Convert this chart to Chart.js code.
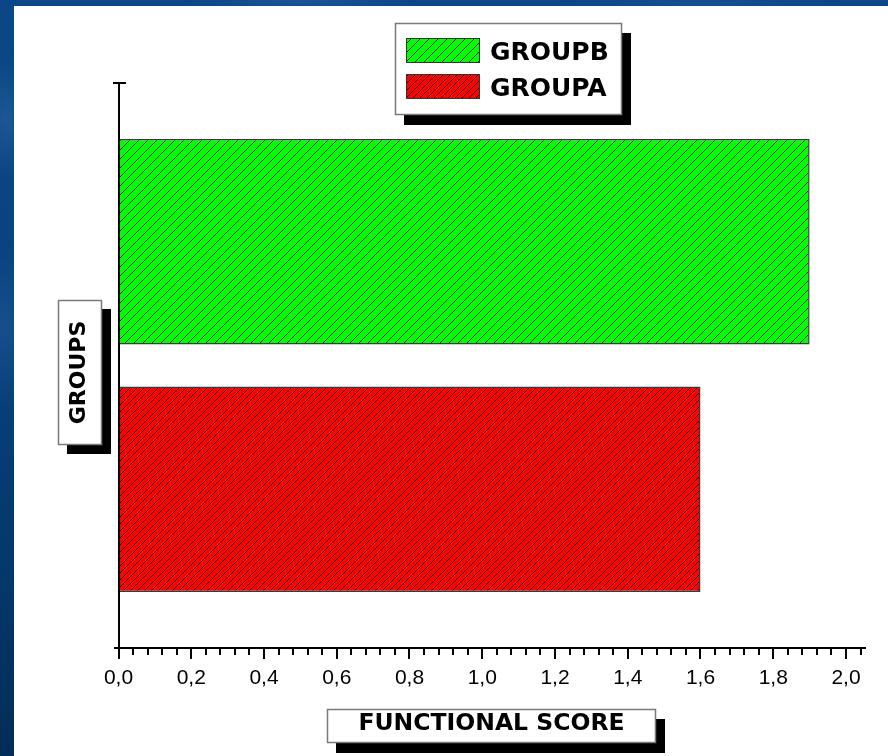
<!DOCTYPE html>
<html>
<head>
<meta charset="utf-8">
<title>Functional score by group</title>
<script src="https://cdn.jsdelivr.net/npm/chart.js@4.4.1/dist/chart.umd.min.js"></script>
<style>
  html, body { margin: 0; padding: 0; width: 888px; height: 756px; overflow: hidden; }
  body {
    background:
      radial-gradient(ellipse 30px 60px at 6px 120px, rgba(70,130,190,0.30), rgba(70,130,190,0) 100%),
      radial-gradient(ellipse 40px 80px at 4px 330px, rgba(60,120,185,0.25), rgba(60,120,185,0) 100%),
      radial-gradient(ellipse 120px 10px at 300px 2px, rgba(70,130,190,0.25), rgba(70,130,190,0) 100%),
      radial-gradient(ellipse 140px 10px at 700px 3px, rgba(60,120,185,0.20), rgba(60,120,185,0) 100%),
      linear-gradient(180deg, #0b4787 0%, #09427f 40%, #05386b 75%, #032d57 100%);
  }
  canvas { display: block; }
</style>
</head>
<body>
<canvas id="chart" width="888" height="756"></canvas>
<script>
// ---- data ----
const categories = ['GROUPS'];
const seriesNames = ['GROUPB', 'GROUPA'];
const groupBScores = [1.9];
const groupAScores = [1.6];
const seriesColors = ['#00ff00', '#ff0000'];
const xTickValues = [0.0, 0.2, 0.4, 0.6, 0.8, 1.0, 1.2, 1.4, 1.6, 1.8, 2.0];
const xTickLabels = ['0,0', '0,2', '0,4', '0,6', '0,8', '1,0', '1,2', '1,4', '1,6', '1,8', '2,0'];
const xAxisTitle = 'FUNCTIONAL SCORE';
const yAxisTitle = 'GROUPS';

const canvas = document.getElementById('chart');
const ctx = canvas.getContext('2d');

// diagonal "/" hatching over a solid fill
function hatch(color, gap) {
  const t = document.createElement('canvas');
  t.width = gap; t.height = gap;
  const g = t.getContext('2d');
  g.fillStyle = color;
  g.fillRect(0, 0, gap, gap);
  g.strokeStyle = 'rgba(0,0,0,0.85)';
  g.lineWidth = 1;
  g.beginPath();
  g.moveTo(0, gap); g.lineTo(gap, 0);
  g.moveTo(-2, 2); g.lineTo(2, -2);
  g.moveTo(gap - 2, gap + 2); g.lineTo(gap + 2, gap - 2);
  g.stroke();
  return ctx.createPattern(t, 'repeat');
}
const patterns = [hatch(seriesColors[0], 9), hatch(seriesColors[1], 7)];

function labelFor(v) {
  const i = xTickValues.findIndex(t => Math.abs(t - v) < 1e-6);
  return i >= 0 ? xTickLabels[i] : '';
}

function shadowBox(c, x, y, w, h, dx, dy) {
  c.fillStyle = '#000';
  c.fillRect(x + dx, y + dy, w, h);
  c.fillStyle = '#fff';
  c.fillRect(x, y, w, h);
  c.strokeStyle = '#7a7a7a';
  c.lineWidth = 1.5;
  c.strokeRect(x + 0.5, y + 0.5, w - 1, h - 1);
}

const decor = {
  id: 'decor',
  beforeDraw(chart) {
    const c = chart.ctx;
    c.save();
    c.fillStyle = '#ffffff';
    c.fillRect(14, 6, chart.width - 14, chart.height - 6);
    c.restore();
  },
  afterDraw(chart) {
    const c = chart.ctx;
    const a = chart.chartArea;
    const xs = chart.scales.x;
    const left = Math.round(a.left), bottom = Math.round(a.bottom), top = Math.round(a.top);
    c.save();
    c.strokeStyle = '#000';
    c.lineWidth = 2;
    c.lineCap = 'butt';
    c.beginPath();
    // value axis and category axis
    c.moveTo(left, top); c.lineTo(left, bottom + 11);
    c.moveTo(left - 6, top); c.lineTo(left + 7, top);
    c.moveTo(left - 5, bottom); c.lineTo(Math.round(a.right), bottom);
    // tick marks
    xs.ticks.forEach(t => {
      const px = Math.round(xs.getPixelForValue(t.value));
      const len = labelFor(t.value) ? 11 : 7;
      c.moveTo(px, bottom); c.lineTo(px, bottom + len);
    });
    c.stroke();

    // legend
    shadowBox(c, 395, 23, 227, 92, 9, 10);
    chart.data.datasets.forEach((ds, i) => {
      const sy = 38 + i * 36;
      c.fillStyle = ds.backgroundColor;
      c.fillRect(406, sy, 74, 25);
      c.strokeStyle = '#333';
      c.lineWidth = 1;
      c.strokeRect(406.5, sy + 0.5, 73, 24);
      c.fillStyle = '#000';
      c.font = 'bold 25px "DejaVu Sans"';
      c.textAlign = 'left';
      c.textBaseline = 'alphabetic';
      c.fillText(ds.label, 490, sy + 22);
    });

    // axis titles
    shadowBox(c, 58, 300, 44, 145, 9, 9);
    c.save();
    c.translate(85, 372.5);
    c.rotate(-Math.PI / 2);
    c.fillStyle = '#000';
    c.font = 'bold 22px "DejaVu Sans"';
    c.textAlign = 'center';
    c.textBaseline = 'alphabetic';
    c.fillText(yAxisTitle, 0, 0);
    c.restore();

    shadowBox(c, 327, 709, 329, 34, 9, 10);
    c.fillStyle = '#000';
    c.font = 'bold 23.5px "DejaVu Sans"';
    c.textAlign = 'center';
    c.textBaseline = 'alphabetic';
    c.fillText(xAxisTitle, 491.5, 730);
    c.restore();
  }
};

new Chart(ctx, {
  type: 'bar',
  data: {
    labels: categories,
    datasets: [
      { label: seriesNames[0], data: groupBScores, backgroundColor: patterns[0] },
      { label: seriesNames[1], data: groupAScores, backgroundColor: patterns[1] }
    ]
  },
  options: {
    indexAxis: 'y',
    responsive: false,
    animation: false,
    events: [],
    layout: { padding: { top: 83, right: 22, left: 0, bottom: 0 } },
    datasets: {
      bar: {
        categoryPercentage: 0.876,
        barPercentage: 0.83,
        borderColor: '#3a3a3a',
        borderWidth: 1.5,
        borderSkipped: false
      }
    },
    plugins: { legend: { display: false }, tooltip: { enabled: false } },
    scales: {
      x: {
        type: 'linear',
        position: 'bottom',
        min: 0,
        max: 2.055,
        grid: { display: false, drawTicks: true, tickLength: 11 },
        border: { display: false },
        ticks: {
          stepSize: 0.04,
          includeBounds: false,
          autoSkip: false,
          maxRotation: 0,
          padding: 7,
          color: '#000',
          font: { family: '"Liberation Sans", Arial, sans-serif', size: 21 },
          callback: v => labelFor(v)
        },
        afterFit: s => { s.height = 108; }
      },
      y: {
        type: 'category',
        grid: { display: false },
        border: { display: false },
        ticks: { display: false },
        afterFit: s => { s.width = 118.5; }
      }
    }
  },
  plugins: [decor]
});
</script>
</body>
</html>
